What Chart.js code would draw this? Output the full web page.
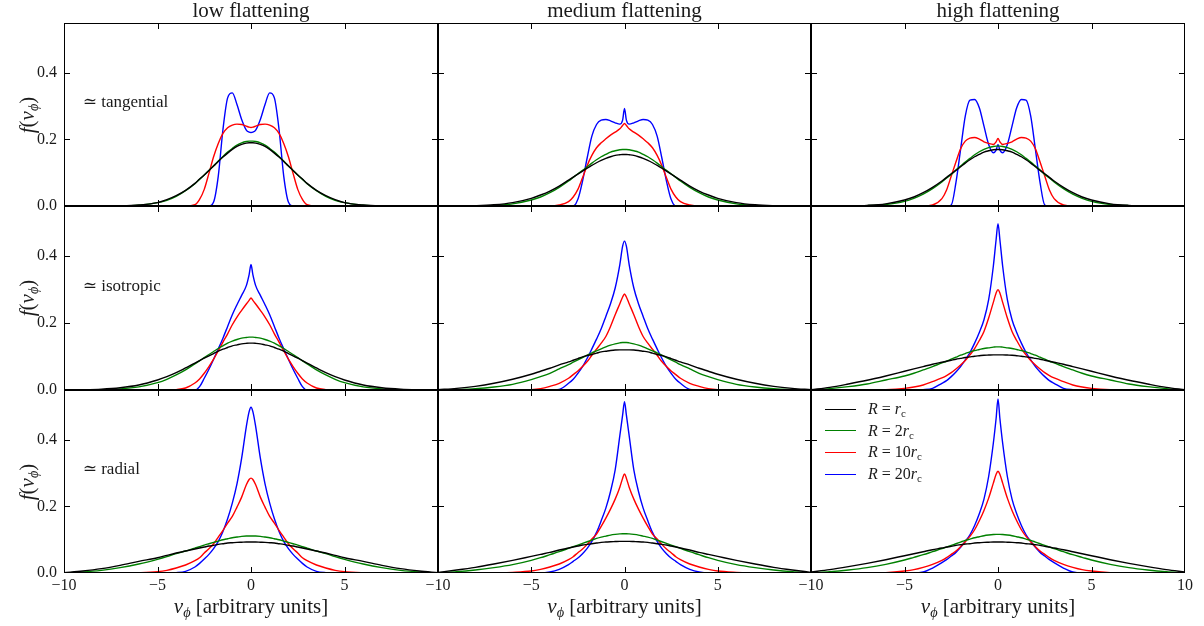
<!DOCTYPE html>
<html>
<head>
<meta charset="utf-8">
<script src="https://cdn.jsdelivr.net/npm/chart.js@4/dist/chart.umd.min.js"></script>
<style>
  body { margin: 0; background: #fff; width: 1204px; height: 626px; position: relative; overflow: hidden;
         font-family: "Liberation Serif", "DejaVu Serif", serif; color: #1a1a1a; }
  canvas { position: absolute; }
  .col-title { position: absolute; width: 300px; text-align: center; font-size: 21px; line-height: 22px; }
  .x-label { position: absolute; width: 300px; text-align: center; font-size: 21px; line-height: 22px; }
  .y-label { position: absolute; width: 90px; height: 24px; line-height: 24px; text-align: center; font-size: 21px;
             transform: rotate(-90deg); }
  sub { font-size: 0.68em; vertical-align: -0.3em; line-height: 0; }
  #legend { position: absolute; left: 825px; top: 0; }
  .leg-row { position: absolute; left: 0; height: 22px; width: 120px; font-size: 16px; line-height: 22px; }
  .leg-line { position: absolute; left: 0; top: 10.5px; width: 31px; height: 0; border-top: 1.4px solid #000; }
  .leg-text { position: absolute; left: 43px; top: 0; white-space: nowrap; }
</style>
</head>
<body>
<script>
// sample points along v_phi, shared by every curve
const vPhi = [-10, -9, -8, -7, -6, -5, -4.5, -4, -3.5, -3, -2.75, -2.5, -2.25, -2, -1.75, -1.5, -1.25, -1, -0.75, -0.5, -0.25, -0.1, 0,
  0.1, 0.25, 0.5, 0.75, 1, 1.25, 1.5, 1.75, 2, 2.25, 2.5, 2.75, 3, 3.5, 4, 4.5, 5, 6, 7, 8, 9, 10];

// ~tangential row
const tanLowR1 = [0, 0, 0, 0.0005, 0.003, 0.010, 0.019, 0.031, 0.047, 0.068, 0.081, 0.093, 0.107, 0.120, 0.134, 0.147, 0.159, 0.170, 0.179, 0.185, 0.189, 0.190, 0.190, 0.190, 0.189, 0.185, 0.179, 0.170, 0.159, 0.147, 0.134, 0.120, 0.107, 0.093, 0.081, 0.068, 0.047, 0.031, 0.019, 0.010, 0.003, 0.0005, 0, 0, 0];
const tanLowR2 = [0, 0, 0, 0.0003, 0.0025, 0.010, 0.017, 0.029, 0.046, 0.067, 0.080, 0.093, 0.107, 0.121, 0.135, 0.149, 0.162, 0.173, 0.183, 0.190, 0.194, 0.195, 0.195, 0.195, 0.194, 0.190, 0.183, 0.173, 0.162, 0.149, 0.135, 0.121, 0.107, 0.093, 0.080, 0.067, 0.046, 0.029, 0.017, 0.010, 0.0025, 0.0003, 0, 0, 0];
const tanLowR10 = [0, 0, 0, 0, 0, 0, 0, 0, 0, 0.004, 0.020, 0.050, 0.098, 0.148, 0.188, 0.218, 0.235, 0.243, 0.246, 0.245, 0.240, 0.237, 0.236, 0.237, 0.240, 0.245, 0.246, 0.243, 0.235, 0.218, 0.188, 0.148, 0.098, 0.050, 0.020, 0.004, 0, 0, 0, 0, 0, 0, 0, 0, 0];
const tanLowR20 = [0, 0, 0, 0, 0, 0, 0, 0, 0, 0, 0, 0, 0, 0.012, 0.090, 0.230, 0.325, 0.340, 0.305, 0.260, 0.228, 0.222, 0.221, 0.222, 0.228, 0.260, 0.305, 0.340, 0.325, 0.230, 0.090, 0.012, 0, 0, 0, 0, 0, 0, 0, 0, 0, 0, 0, 0, 0];

const tanMedR1 = [0, 0.0003, 0.0011, 0.0036, 0.010, 0.023, 0.033, 0.045, 0.060, 0.078, 0.087, 0.096, 0.105, 0.114, 0.122, 0.130, 0.137, 0.143, 0.148, 0.152, 0.154, 0.155, 0.155, 0.155, 0.154, 0.152, 0.148, 0.143, 0.137, 0.130, 0.122, 0.114, 0.105, 0.096, 0.087, 0.078, 0.060, 0.045, 0.033, 0.023, 0.010, 0.0036, 0.0011, 0.0003, 0];
const tanMedR2 = [0, 0.0001, 0.0005, 0.002, 0.0065, 0.018, 0.027, 0.040, 0.056, 0.075, 0.086, 0.097, 0.107, 0.118, 0.129, 0.139, 0.148, 0.155, 0.162, 0.166, 0.169, 0.170, 0.170, 0.170, 0.169, 0.166, 0.162, 0.155, 0.148, 0.139, 0.129, 0.118, 0.107, 0.097, 0.086, 0.075, 0.056, 0.040, 0.027, 0.018, 0.0065, 0.002, 0.0005, 0.0001, 0];
const tanMedR10 = [0, 0, 0, 0, 0, 0, 0, 0, 0.003, 0.013, 0.027, 0.050, 0.085, 0.122, 0.152, 0.175, 0.190, 0.202, 0.213, 0.222, 0.232, 0.242, 0.248, 0.242, 0.232, 0.222, 0.213, 0.202, 0.190, 0.175, 0.152, 0.122, 0.085, 0.050, 0.027, 0.013, 0.003, 0, 0, 0, 0, 0, 0, 0, 0];
const tanMedR20 = [0, 0, 0, 0, 0, 0, 0, 0, 0, 0, 0, 0.020, 0.075, 0.145, 0.210, 0.245, 0.258, 0.260, 0.256, 0.250, 0.246, 0.258, 0.293, 0.258, 0.246, 0.250, 0.256, 0.260, 0.258, 0.245, 0.210, 0.145, 0.075, 0.020, 0, 0, 0, 0, 0, 0, 0, 0, 0, 0, 0];

const tanHighR1 = [0, 0.0001, 0.0005, 0.002, 0.0065, 0.018, 0.027, 0.040, 0.056, 0.075, 0.086, 0.097, 0.107, 0.118, 0.129, 0.139, 0.148, 0.155, 0.162, 0.166, 0.169, 0.170, 0.170, 0.170, 0.169, 0.166, 0.162, 0.155, 0.148, 0.139, 0.129, 0.118, 0.107, 0.097, 0.086, 0.075, 0.056, 0.040, 0.027, 0.018, 0.0065, 0.002, 0.0005, 0.0001, 0];
const tanHighR2 = [0, 0, 0.0003, 0.0012, 0.0047, 0.014, 0.023, 0.0355, 0.052, 0.072, 0.084, 0.095, 0.108, 0.120, 0.132, 0.143, 0.154, 0.163, 0.170, 0.1755, 0.179, 0.180, 0.180, 0.180, 0.179, 0.1755, 0.170, 0.163, 0.154, 0.143, 0.132, 0.120, 0.108, 0.095, 0.084, 0.072, 0.052, 0.0355, 0.023, 0.014, 0.0047, 0.0012, 0.0003, 0, 0];
const tanHighR10 = [0, 0, 0, 0, 0, 0, 0, 0, 0.003, 0.022, 0.048, 0.090, 0.132, 0.172, 0.195, 0.204, 0.206, 0.201, 0.193, 0.188, 0.185, 0.193, 0.203, 0.193, 0.185, 0.188, 0.193, 0.201, 0.206, 0.204, 0.195, 0.172, 0.132, 0.090, 0.048, 0.022, 0.003, 0, 0, 0, 0, 0, 0, 0, 0];
const tanHighR20 = [0, 0, 0, 0, 0, 0, 0, 0, 0, 0, 0, 0.003, 0.070, 0.170, 0.270, 0.318, 0.320, 0.295, 0.240, 0.185, 0.160, 0.168, 0.185, 0.168, 0.160, 0.185, 0.240, 0.295, 0.320, 0.318, 0.270, 0.170, 0.070, 0.003, 0, 0, 0, 0, 0, 0, 0, 0, 0, 0, 0];

// ~isotropic row
const isoLowR1 = [0.0003, 0.001, 0.0027, 0.0069, 0.015, 0.030, 0.040, 0.052, 0.066, 0.080, 0.088, 0.095, 0.102, 0.109, 0.116, 0.122, 0.127, 0.132, 0.135, 0.138, 0.1395, 0.140, 0.140, 0.140, 0.1395, 0.138, 0.135, 0.132, 0.127, 0.122, 0.116, 0.109, 0.102, 0.095, 0.088, 0.080, 0.066, 0.052, 0.040, 0.030, 0.015, 0.0069, 0.0027, 0.001, 0.0003];
const isoLowR2 = [0, 0.0003, 0.001, 0.0033, 0.0093, 0.022, 0.032, 0.045, 0.060, 0.078, 0.087, 0.0966, 0.106, 0.115, 0.124, 0.132, 0.140, 0.146, 0.151, 0.155, 0.157, 0.158, 0.158, 0.158, 0.157, 0.155, 0.151, 0.146, 0.140, 0.132, 0.124, 0.115, 0.106, 0.0966, 0.087, 0.078, 0.060, 0.045, 0.032, 0.022, 0.0093, 0.0033, 0.001, 0.0003, 0];
const isoLowR10 = [0, 0, 0, 0, 0, 0, 0, 0.001, 0.006, 0.021, 0.033, 0.050, 0.070, 0.092, 0.117, 0.143, 0.168, 0.195, 0.218, 0.238, 0.257, 0.268, 0.275, 0.268, 0.257, 0.238, 0.218, 0.195, 0.168, 0.143, 0.117, 0.092, 0.070, 0.050, 0.033, 0.021, 0.006, 0.001, 0, 0, 0, 0, 0, 0, 0];
const isoLowR20 = [0, 0, 0, 0, 0, 0, 0, 0, 0, 0, 0.010, 0.035, 0.062, 0.092, 0.123, 0.155, 0.190, 0.225, 0.255, 0.283, 0.312, 0.345, 0.375, 0.345, 0.312, 0.283, 0.255, 0.225, 0.190, 0.155, 0.123, 0.092, 0.062, 0.035, 0.010, 0, 0, 0, 0, 0, 0, 0, 0, 0, 0];

const isoMedR1 = [0.001, 0.005, 0.011, 0.020, 0.032, 0.047, 0.056, 0.065, 0.075, 0.084, 0.089, 0.094, 0.099, 0.103, 0.106, 0.110, 0.114, 0.116, 0.118, 0.1195, 0.120, 0.120, 0.120, 0.120, 0.120, 0.1195, 0.118, 0.116, 0.114, 0.110, 0.106, 0.103, 0.099, 0.094, 0.089, 0.084, 0.075, 0.065, 0.056, 0.047, 0.032, 0.020, 0.011, 0.005, 0.001];
const isoMedR2 = [0, 0.0015, 0.004, 0.009, 0.017, 0.031, 0.040, 0.050, 0.063, 0.076, 0.083, 0.090, 0.097, 0.104, 0.111, 0.117, 0.123, 0.129, 0.134, 0.138, 0.141, 0.142, 0.142, 0.142, 0.141, 0.138, 0.134, 0.129, 0.123, 0.117, 0.111, 0.104, 0.097, 0.090, 0.083, 0.076, 0.063, 0.050, 0.040, 0.031, 0.017, 0.009, 0.004, 0.0015, 0];
const isoMedR10 = [0, 0, 0, 0, 0, 0.001, 0.004, 0.011, 0.020, 0.035, 0.046, 0.057, 0.070, 0.085, 0.104, 0.122, 0.140, 0.160, 0.190, 0.225, 0.258, 0.278, 0.287, 0.278, 0.258, 0.225, 0.190, 0.160, 0.140, 0.122, 0.104, 0.085, 0.070, 0.057, 0.046, 0.035, 0.020, 0.011, 0.004, 0.001, 0, 0, 0, 0, 0];
const isoMedR20 = [0, 0, 0, 0, 0, 0, 0, 0, 0.002, 0.020, 0.032, 0.050, 0.070, 0.095, 0.123, 0.152, 0.183, 0.220, 0.258, 0.305, 0.375, 0.430, 0.445, 0.430, 0.375, 0.305, 0.258, 0.220, 0.183, 0.152, 0.123, 0.095, 0.070, 0.050, 0.032, 0.020, 0.002, 0, 0, 0, 0, 0, 0, 0, 0];

const isoHighR1 = [0.001, 0.008, 0.018, 0.029, 0.042, 0.056, 0.063, 0.070, 0.077, 0.083, 0.086, 0.089, 0.092, 0.0945, 0.097, 0.099, 0.101, 0.1025, 0.104, 0.1045, 0.105, 0.105, 0.105, 0.105, 0.105, 0.1045, 0.104, 0.1025, 0.101, 0.099, 0.097, 0.0945, 0.092, 0.089, 0.086, 0.083, 0.077, 0.070, 0.063, 0.056, 0.042, 0.029, 0.018, 0.008, 0.001];
const isoHighR2 = [0, 0.004, 0.010, 0.018, 0.030, 0.042, 0.050, 0.060, 0.070, 0.081, 0.086, 0.092, 0.098, 0.104, 0.109, 0.114, 0.118, 0.121, 0.124, 0.126, 0.128, 0.129, 0.129, 0.129, 0.128, 0.126, 0.124, 0.121, 0.118, 0.114, 0.109, 0.104, 0.098, 0.092, 0.086, 0.081, 0.070, 0.060, 0.050, 0.042, 0.030, 0.018, 0.010, 0.004, 0];
const isoHighR10 = [0, 0, 0, 0, 0.001, 0.005, 0.009, 0.015, 0.025, 0.036, 0.043, 0.052, 0.063, 0.075, 0.088, 0.105, 0.124, 0.148, 0.175, 0.215, 0.262, 0.290, 0.300, 0.290, 0.262, 0.215, 0.175, 0.148, 0.124, 0.105, 0.088, 0.075, 0.063, 0.052, 0.043, 0.036, 0.025, 0.015, 0.009, 0.005, 0.001, 0, 0, 0, 0];
const isoHighR20 = [0, 0, 0, 0, 0, 0, 0, 0.001, 0.005, 0.020, 0.028, 0.040, 0.054, 0.070, 0.090, 0.112, 0.140, 0.172, 0.210, 0.270, 0.370, 0.450, 0.497, 0.450, 0.370, 0.270, 0.210, 0.172, 0.140, 0.112, 0.090, 0.070, 0.054, 0.040, 0.028, 0.020, 0.005, 0.001, 0, 0, 0, 0, 0, 0, 0];

// ~radial row
const radLowR1 = [0.001, 0.006, 0.013, 0.023, 0.035, 0.046, 0.053, 0.060, 0.066, 0.072, 0.075, 0.078, 0.081, 0.083, 0.086, 0.088, 0.090, 0.091, 0.092, 0.0925, 0.093, 0.093, 0.093, 0.093, 0.093, 0.0925, 0.092, 0.091, 0.090, 0.088, 0.086, 0.083, 0.081, 0.078, 0.075, 0.072, 0.066, 0.060, 0.053, 0.046, 0.035, 0.023, 0.013, 0.006, 0.001];
const radLowR2 = [0, 0.003, 0.008, 0.016, 0.027, 0.041, 0.049, 0.058, 0.066, 0.075, 0.079, 0.084, 0.088, 0.092, 0.096, 0.100, 0.103, 0.106, 0.108, 0.110, 0.111, 0.111, 0.111, 0.111, 0.111, 0.110, 0.108, 0.106, 0.103, 0.100, 0.096, 0.092, 0.088, 0.084, 0.079, 0.075, 0.066, 0.058, 0.049, 0.041, 0.027, 0.016, 0.008, 0.003, 0];
const radLowR10 = [0, 0, 0, 0, 0.001, 0.004, 0.008, 0.015, 0.024, 0.037, 0.046, 0.060, 0.073, 0.088, 0.108, 0.128, 0.150, 0.170, 0.198, 0.228, 0.265, 0.281, 0.285, 0.281, 0.265, 0.228, 0.198, 0.170, 0.150, 0.128, 0.108, 0.088, 0.073, 0.060, 0.046, 0.037, 0.024, 0.015, 0.008, 0.004, 0.001, 0, 0, 0, 0];
const radLowR20 = [0, 0, 0, 0, 0, 0, 0, 0.001, 0.005, 0.018, 0.029, 0.042, 0.056, 0.073, 0.095, 0.125, 0.163, 0.210, 0.268, 0.345, 0.440, 0.485, 0.498, 0.485, 0.440, 0.345, 0.268, 0.210, 0.163, 0.125, 0.095, 0.073, 0.056, 0.042, 0.029, 0.018, 0.005, 0.001, 0, 0, 0, 0, 0, 0, 0];

const radMedR1 = [0.002, 0.009, 0.017, 0.027, 0.038, 0.050, 0.056, 0.062, 0.069, 0.075, 0.078, 0.081, 0.084, 0.086, 0.088, 0.090, 0.092, 0.093, 0.094, 0.0945, 0.095, 0.095, 0.095, 0.095, 0.095, 0.0945, 0.094, 0.093, 0.092, 0.090, 0.088, 0.086, 0.084, 0.081, 0.078, 0.075, 0.069, 0.062, 0.056, 0.050, 0.038, 0.027, 0.017, 0.009, 0.002];
const radMedR2 = [0.001, 0.004, 0.009, 0.016, 0.025, 0.038, 0.046, 0.055, 0.064, 0.074, 0.079, 0.084, 0.089, 0.094, 0.099, 0.104, 0.108, 0.111, 0.114, 0.116, 0.1175, 0.118, 0.118, 0.118, 0.1175, 0.116, 0.114, 0.111, 0.108, 0.104, 0.099, 0.094, 0.089, 0.084, 0.079, 0.074, 0.064, 0.055, 0.046, 0.038, 0.025, 0.016, 0.009, 0.004, 0.001];
const radMedR10 = [0, 0, 0, 0, 0.002, 0.006, 0.011, 0.018, 0.027, 0.040, 0.049, 0.061, 0.072, 0.086, 0.102, 0.117, 0.140, 0.165, 0.192, 0.222, 0.258, 0.285, 0.298, 0.285, 0.258, 0.222, 0.192, 0.165, 0.140, 0.117, 0.102, 0.086, 0.072, 0.061, 0.049, 0.040, 0.027, 0.018, 0.011, 0.006, 0.002, 0, 0, 0, 0];
const radMedR20 = [0, 0, 0, 0, 0, 0, 0, 0.003, 0.011, 0.025, 0.035, 0.045, 0.058, 0.074, 0.095, 0.122, 0.157, 0.195, 0.245, 0.310, 0.413, 0.475, 0.515, 0.475, 0.413, 0.310, 0.245, 0.195, 0.157, 0.122, 0.095, 0.074, 0.058, 0.045, 0.035, 0.025, 0.011, 0.003, 0, 0, 0, 0, 0, 0, 0];

const radHighR1 = [0.003, 0.010, 0.019, 0.029, 0.040, 0.052, 0.058, 0.064, 0.070, 0.075, 0.078, 0.080, 0.083, 0.085, 0.087, 0.088, 0.090, 0.091, 0.092, 0.0925, 0.093, 0.093, 0.093, 0.093, 0.093, 0.0925, 0.092, 0.091, 0.090, 0.088, 0.087, 0.085, 0.083, 0.080, 0.078, 0.075, 0.070, 0.064, 0.058, 0.052, 0.040, 0.029, 0.019, 0.010, 0.003];
const radHighR2 = [0.001, 0.004, 0.009, 0.016, 0.026, 0.039, 0.047, 0.055, 0.064, 0.073, 0.078, 0.083, 0.088, 0.093, 0.098, 0.102, 0.106, 0.109, 0.112, 0.114, 0.1155, 0.116, 0.116, 0.116, 0.1155, 0.114, 0.112, 0.109, 0.106, 0.102, 0.098, 0.093, 0.088, 0.083, 0.078, 0.073, 0.064, 0.055, 0.047, 0.039, 0.026, 0.016, 0.009, 0.004, 0.001];
const radHighR10 = [0, 0, 0, 0, 0.001, 0.006, 0.010, 0.017, 0.026, 0.038, 0.046, 0.056, 0.066, 0.079, 0.094, 0.110, 0.130, 0.157, 0.188, 0.225, 0.270, 0.297, 0.306, 0.297, 0.270, 0.225, 0.188, 0.157, 0.130, 0.110, 0.094, 0.079, 0.066, 0.056, 0.046, 0.038, 0.026, 0.017, 0.010, 0.006, 0.001, 0, 0, 0, 0];
const radHighR20 = [0, 0, 0, 0, 0, 0, 0, 0.003, 0.015, 0.031, 0.040, 0.051, 0.062, 0.077, 0.095, 0.115, 0.143, 0.178, 0.222, 0.290, 0.390, 0.465, 0.523, 0.465, 0.390, 0.290, 0.222, 0.178, 0.143, 0.115, 0.095, 0.077, 0.062, 0.051, 0.040, 0.031, 0.015, 0.003, 0, 0, 0, 0, 0, 0, 0];

const colTitles = ['low flattening', 'medium flattening', 'high flattening'];
const rowLabels = ['\u2243 tangential', '\u2243 isotropic', '\u2243 radial'];
const xTickVals = [-10, -5, 0, 5, 10];
const yTickVals = [0, 0.2, 0.4];
const seriesColors = ['#000000', '#008000', '#ff0000', '#0000ff'];
const seriesLabels = [
  '<i>R</i> = <i>r</i><sub>c</sub>',
  '<i>R</i> = 2<i>r</i><sub>c</sub>',
  '<i>R</i> = 10<i>r</i><sub>c</sub>',
  '<i>R</i> = 20<i>r</i><sub>c</sub>'
];

const panelSeries = [
  [tanLowR1, tanLowR2, tanLowR10, tanLowR20],
  [tanMedR1, tanMedR2, tanMedR10, tanMedR20],
  [tanHighR1, tanHighR2, tanHighR10, tanHighR20],
  [isoLowR1, isoLowR2, isoLowR10, isoLowR20],
  [isoMedR1, isoMedR2, isoMedR10, isoMedR20],
  [isoHighR1, isoHighR2, isoHighR10, isoHighR20],
  [radLowR1, radLowR2, radLowR10, radLowR20],
  [radMedR1, radMedR2, radMedR10, radMedR20],
  [radHighR1, radHighR2, radHighR10, radHighR20]
];

// grid geometry (plot rectangles)
const colLeft = [64, 438, 811], colWidth = [374, 373, 374];
const rowTop = [23, 206, 390], rowHeight = [183, 184, 183];
const PAD_L = 70, PAD_R = 28, PAD_T = 24, PAD_B = 32;

Chart.defaults.font.family = '"Liberation Serif", "DejaVu Serif", serif';
Chart.defaults.font.size = 16;
Chart.defaults.color = '#1a1a1a';

const minus = v => (v < 0 ? '\u2212' + Math.abs(v) : String(v));

// frame, inward ticks on all four sides, and the row annotation
const frameTicks = {
  id: 'frameTicks',
  afterDatasetsDraw(chart, args, opts) {
    const { ctx, chartArea: a, scales: { x, y } } = chart;
    ctx.save();
    ctx.strokeStyle = '#000';
    ctx.lineWidth = 1;
    ctx.strokeRect(a.left + 0.5, a.top + 0.5, a.right - a.left - 1, a.bottom - a.top - 1);
    ctx.beginPath();
    [-5, 0, 5].forEach(v => {
      const px = Math.round(x.getPixelForValue(v)) + 0.5;
      ctx.moveTo(px, a.top); ctx.lineTo(px, a.top + 6);
      ctx.moveTo(px, a.bottom); ctx.lineTo(px, a.bottom - 6);
    });
    [0.2, 0.4].forEach(v => {
      const py = Math.round(y.getPixelForValue(v)) + 0.5;
      ctx.moveTo(a.left, py); ctx.lineTo(a.left + 6, py);
      ctx.moveTo(a.right, py); ctx.lineTo(a.right - 6, py);
    });
    ctx.stroke();
    if (opts.text) {
      ctx.fillStyle = '#1a1a1a';
      ctx.font = '17px "Liberation Serif", "DejaVu Serif", serif';
      ctx.textAlign = 'left';
      ctx.textBaseline = 'middle';
      ctx.fillText(opts.text, x.getPixelForValue(-9), y.getPixelForValue(0.31));
    }
    ctx.restore();
  }
};

panelSeries.forEach((series, i) => {
  const r = Math.floor(i / 3), c = i % 3;
  const w = colWidth[c] + PAD_L + PAD_R, h = rowHeight[r] + PAD_T + PAD_B;
  const cv = document.createElement('canvas');
  cv.width = w; cv.height = h;
  cv.style.width = w + 'px'; cv.style.height = h + 'px';
  cv.style.left = (colLeft[c] - PAD_L) + 'px';
  cv.style.top = (rowTop[r] - PAD_T) + 'px';
  document.body.appendChild(cv);

  new Chart(cv, {
    type: 'line',
    data: {
      datasets: series.map((vals, k) => ({
        data: vPhi.map((v, j) => ({ x: v, y: vals[j] })),
        borderColor: seriesColors[k],
        borderWidth: 1.4,
        pointRadius: 0,
        cubicInterpolationMode: 'monotone',
        fill: false
      }))
    },
    options: {
      responsive: false,
      animation: false,
      events: [],
      layout: { padding: { left: 0, right: PAD_R, top: PAD_T, bottom: 0 } },
      plugins: {
        legend: { display: false },
        tooltip: { enabled: false },
        frameTicks: { text: c === 0 ? rowLabels[r] : '' }
      },
      scales: {
        x: {
          type: 'linear', min: -10, max: 10,
          grid: { display: false, drawTicks: false },
          border: { display: false },
          afterBuildTicks: s => { s.ticks = xTickVals.map(v => ({ value: v })); },
          afterFit: s => { s.height = PAD_B; },
          ticks: {
            display: r === 2, padding: 3, maxRotation: 0,
            callback: v => (v === 10 && c < 2 ? '' : minus(v))
          }
        },
        y: {
          type: 'linear', min: 0, max: 0.55,
          grid: { display: false, drawTicks: false },
          border: { display: false },
          afterBuildTicks: s => { s.ticks = yTickVals.map(v => ({ value: v })); },
          afterFit: s => { s.width = PAD_L; },
          ticks: { display: c === 0, padding: 7, callback: v => v.toFixed(1) }
        }
      }
    },
    plugins: [frameTicks]
  });
});

// column titles, axis labels
colTitles.forEach((t, c) => {
  const d = document.createElement('div');
  d.className = 'col-title';
  d.textContent = t;
  d.style.left = (colLeft[c] + colWidth[c] / 2 - 150) + 'px';
  d.style.top = '-1px';
  document.body.appendChild(d);

  const xl = document.createElement('div');
  xl.className = 'x-label';
  xl.innerHTML = '<i>v</i><sub><i>\u03d5</i></sub> [arbitrary units]';
  xl.style.left = (colLeft[c] + colWidth[c] / 2 - 150) + 'px';
  xl.style.top = '595px';
  document.body.appendChild(xl);
});

rowTop.forEach((t, r) => {
  const d = document.createElement('div');
  d.className = 'y-label';
  d.innerHTML = '<i>f</i>(<i>v</i><sub><i>\u03d5</i></sub>)';
  d.style.left = (27 - 45) + 'px';
  d.style.top = (t + rowHeight[r] / 2 - 12) + 'px';
  document.body.appendChild(d);
});

// legend in the lower-right panel
const legend = document.createElement('div');
legend.id = 'legend';
seriesLabels.forEach((lab, k) => {
  const row = document.createElement('div');
  row.className = 'leg-row';
  row.style.top = (409 + k * 21.7 - 11) + 'px';
  row.innerHTML = '<span class="leg-line" style="border-top-color:' + seriesColors[k] + '"></span>' +
    '<span class="leg-text">' + lab + '</span>';
  legend.appendChild(row);
});
document.body.appendChild(legend);
</script>
</body>
</html>
